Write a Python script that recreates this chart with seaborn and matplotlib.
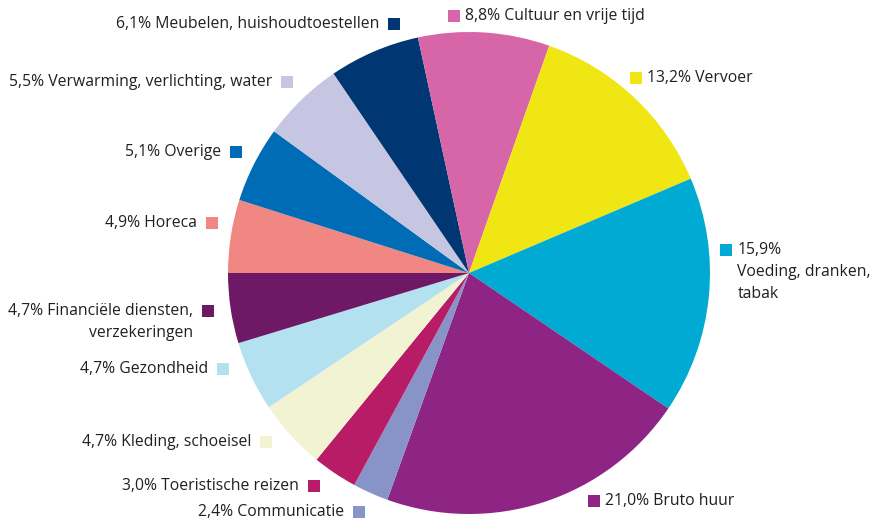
import matplotlib
matplotlib.use("Agg")
import matplotlib.pyplot as plt
import seaborn as sns

"""
household spending shares as a pie with boxed labels
"""

# slices in clockwise order, starting at the left horizontal
categories = ["Horeca", "Overige", "Verwarming, verlichting, water",
              "Meubelen, huishoudtoestellen", "Cultuur en vrije tijd", "Vervoer",
              "Voeding, dranken, tabak", "Bruto huur", "Communicatie",
              "Toeristische reizen", "Kleding, schoeisel", "Gezondheid",
              "Financiële diensten, verzekeringen"]
shares = [4.9, 5.1, 5.5, 6.1, 8.8, 13.2, 15.9, 21.0, 2.4, 3.0, 4.7, 4.7, 4.7]
colors = ["#F08783", "#006CB5", "#C6C6E2", "#003672", "#D766A9", "#F0E614",
          "#00AAD2", "#8E2483", "#8893C8", "#B81C67", "#F2F3D2", "#B3E1EF",
          "#6E1966"]

# label text per slice (same order as categories)
label_texts = ["4,9% Horeca", "5,1% Overige", "5,5% Verwarming, verlichting, water",
               "6,1% Meubelen, huishoudtoestellen", "8,8% Cultuur en vrije tijd",
               "13,2% Vervoer", "15,9%\nVoeding, dranken,\ntabak", "21,0% Bruto huur",
               "2,4% Communicatie", "3,0% Toeristische reizen", "4,7% Kleding, schoeisel",
               "4,7% Gezondheid", "4,7% Financiële diensten,\nverzekeringen"]

# layout: (square left x, square centre y, side) in pixels, y from top
W, H = 878, 522
square_pos = [(206, 223, "L"), (230, 152, "L"), (281, 82, "L"), (388, 24, "L"),
              (448, 16, "R"), (630, 78, "R"), (720, 250, "R"), (588, 501, "R"),
              (353, 512, "L"), (308, 486, "L"), (260, 442, "L"), (217, 369, "L"),
              (202, 311, "L")]
SQ = 12.5
LINE = 22
TEXT_COLOR = "#231F20"


def main():
    sns.set_theme(style="white")
    plt.rcParams["font.family"] = ["Open Sans", "DejaVu Sans"]

    fig = plt.figure(figsize=(W / 100, H / 100), dpi=100)
    ax = fig.add_axes([0, 0, 1, 1])

    ax.pie(shares, colors=colors, startangle=180, counterclock=False,
           center=(469, H - 273), radius=241, wedgeprops=dict(linewidth=0),
           frame=True)
    ax.set_xlim(0, W)
    ax.set_ylim(0, H)
    ax.set_aspect("equal")
    ax.axis("off")

    for text, color, (sx, sy, side) in zip(label_texts, colors, square_pos):
        ax.add_patch(plt.Rectangle((sx, H - sy - SQ / 2), SQ, SQ, color=color, lw=0))
        for i, line in enumerate(text.split("\n")):
            y = H - sy - i * LINE
            if side == "L":
                ax.text(sx - 9, y, line, ha="right", va="center",
                        fontsize=11.3, color=TEXT_COLOR)
            else:
                ax.text(sx + SQ + 5, y, line, ha="left", va="center",
                        fontsize=11.3, color=TEXT_COLOR)

    fig.savefig("out.png", dpi=100)


if __name__ == '__main__':
    main()
